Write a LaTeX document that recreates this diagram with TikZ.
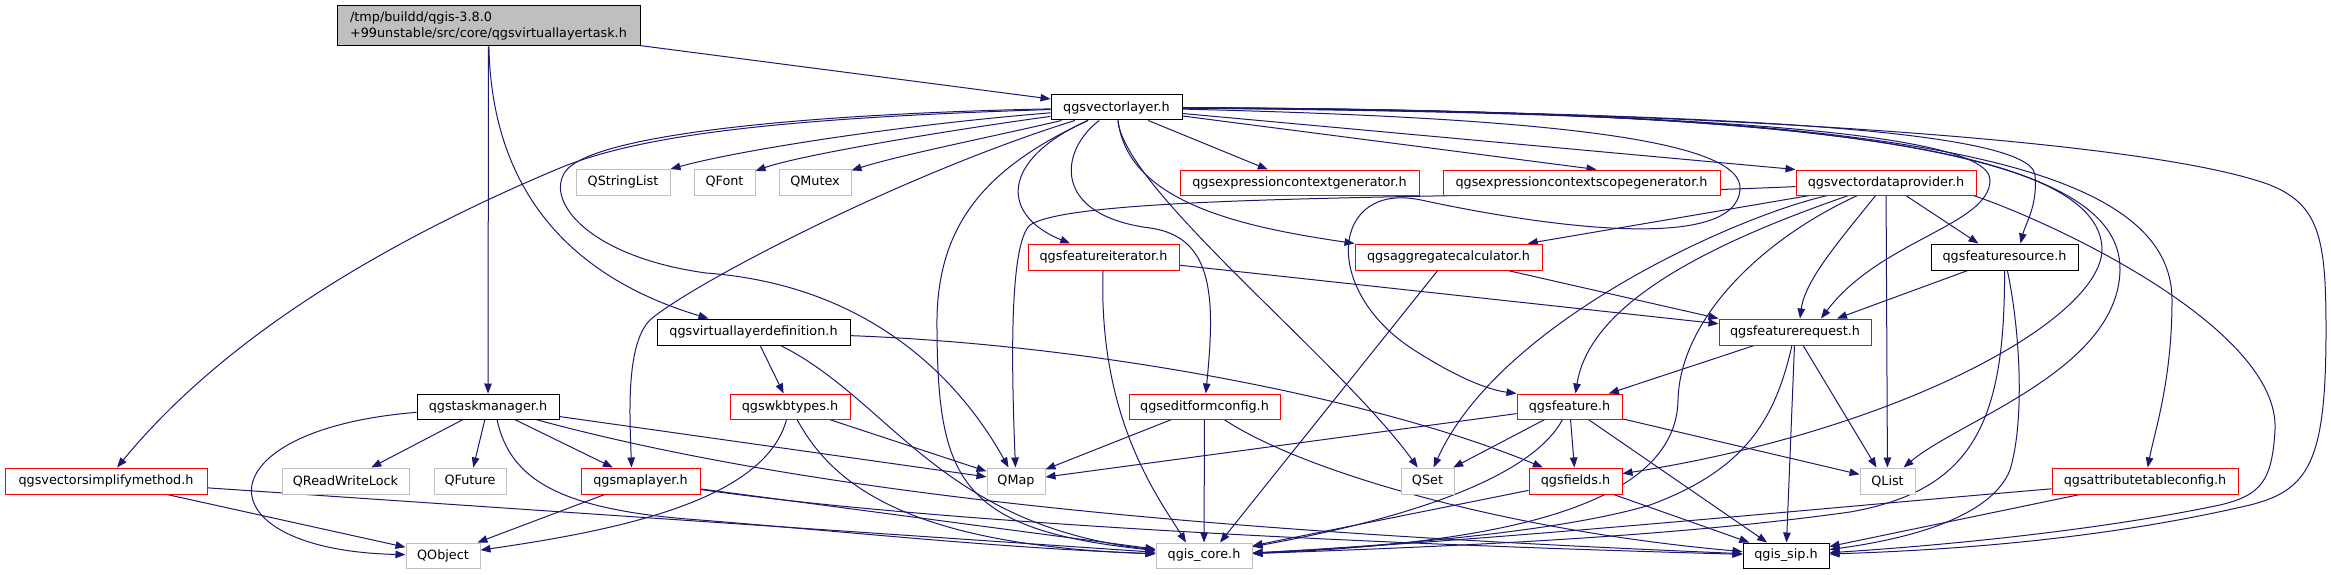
\documentclass[tikz,border=0pt]{standalone}
\usepackage{fontspec}
\setmainfont{DejaVu Sans}
\usetikzlibrary{arrows.meta,backgrounds}
\definecolor{edgeblue}{HTML}{191970}
\definecolor{nodered}{HTML}{FF0000}
\definecolor{nodegray}{HTML}{BFBFBF}
\definecolor{rootfill}{HTML}{BFBFBF}
\newcommand{\lblfont}{\fontsize{12.8}{16}\selectfont}
\begin{document}
\begin{tikzpicture}[x=1pt,y=-1pt,
  box/.style={rectangle, inner sep=0pt, minimum height=25pt, line width=1pt, font=\lblfont, fill=white},
  rbox/.style={box, draw=nodered},
  kbox/.style={box, draw=black},
  gbox/.style={box, draw=nodegray},
  lnk/.style={draw=edgeblue, line width=1pt, -{Triangle[length=10pt,width=7.5pt]}}]
\useasboundingbox (0,0) rectangle (2331,575);
\begin{pgfonlayer}{background}
\fill[white] (0,0) rectangle (2331,575);
\end{pgfonlayer}

% nodes
\node[kbox, fill=rootfill, minimum width=303pt, minimum height=40pt, align=left] (root) at (488.5,26) {/tmp/buildd/qgis-3.8.0\\+99unstable/src/core/qgsvirtuallayertask.h};
\node[kbox, minimum width=131pt] (vl) at (1116.5,107.5) {qgsvectorlayer.h};
\node[gbox, minimum width=94pt, minimum height=26pt] (qsl) at (623,182) {QStringList};
\node[gbox, minimum width=61pt, minimum height=26pt] (qfont) at (724.5,182) {QFont};
\node[gbox, minimum width=72pt, minimum height=26pt] (qmutex) at (815,182) {QMutex};
\node[rbox, minimum width=239pt] (exprgen) at (1299.5,182.5) {qgsexpressioncontextgenerator.h};
\node[rbox, minimum width=277pt] (exprscope) at (1581.5,182.5) {qgsexpressioncontextscopegenerator.h};
\node[rbox, minimum width=180pt] (vdp) at (1886,182.5) {qgsvectordataprovider.h};
\node[rbox, minimum width=151pt, minimum height=26pt] (fiter) at (1103.5,257) {qgsfeatureiterator.h};
\node[rbox, minimum width=187pt, minimum height=26pt] (aggcalc) at (1448.5,257) {qgsaggregatecalculator.h};
\node[kbox, minimum width=147pt, minimum height=26pt] (fsource) at (2004.5,257) {qgsfeaturesource.h};
\node[rbox, minimum width=152pt, minimum height=26pt] (freq) at (1795,332) {qgsfeaturerequest.h};
\node[kbox, minimum width=193pt, minimum height=26pt] (vld) at (753.5,332) {qgsvirtuallayerdefinition.h};
\node[kbox, minimum width=142pt] (taskmgr) at (488,406.5) {qgstaskmanager.h};
\node[rbox, minimum width=120pt] (wkb) at (790,406.5) {qgswkbtypes.h};
\node[rbox, minimum width=151pt] (editform) at (1204.5,406.5) {qgseditformconfig.h};
\node[rbox, minimum width=105pt] (feature) at (1569.5,406.5) {qgsfeature.h};
\node[rbox, minimum width=202pt, minimum height=26pt] (simplify) at (106,481) {qgsvectorsimplifymethod.h};
\node[gbox, minimum width=127pt, minimum height=26pt] (qrwl) at (345.5,481) {QReadWriteLock};
\node[gbox, minimum width=72pt, minimum height=26pt] (qfuture) at (470,481) {QFuture};
\node[rbox, minimum width=119pt, minimum height=26pt] (maplayer) at (640.5,481) {qgsmaplayer.h};
\node[gbox, minimum width=58pt, minimum height=26pt] (qmap) at (1016,481) {QMap};
\node[gbox, minimum width=53pt, minimum height=26pt] (qset) at (1427.5,481) {QSet};
\node[rbox, minimum width=93pt, minimum height=26pt] (fields) at (1575.5,481) {qgsfields.h};
\node[gbox, minimum width=55pt, minimum height=26pt] (qlist) at (1887.5,481) {QList};
\node[rbox, minimum width=186pt, minimum height=26pt] (attr) at (2145,481) {qgsattributetableconfig.h};
\node[gbox, minimum width=74pt] (qobject) at (443,555.5) {QObject};
\node[gbox, minimum width=96pt] (core) at (1204,555.5) {qgis\_core.h};
\node[kbox, minimum width=86pt] (sip) at (1786,555.5) {qgis\_sip.h};

\begin{pgfonlayer}{background}
% root
\draw[lnk] (root) -- (vl);
\draw[lnk] (root) -- (taskmgr);
\draw[lnk] (root) .. controls (492,200) and (580,280) .. (vld);
% qgsvectorlayer.h
\draw[lnk] (vl) .. controls (900,125) and (740,150) .. (qsl);
\draw[lnk] (vl) .. controls (950,130) and (800,155) .. (qfont);
\draw[lnk] (vl) .. controls (1000,135) and (900,155) .. (qmutex);
\draw[lnk] (vl) .. controls (780,118) and (640,135) .. (560,168) .. controls (400,235) and (230,330) .. (simplify);
\draw[lnk] (vl) .. controls (800,114) and (590,135) .. (565,172) .. controls (545,202) and (590,257) .. (706,273) .. controls (870,285) and (960,380) .. (qmap);
\draw[lnk] (vl) .. controls (900,175) and (690,285) .. (650,320) .. controls (625,345) and (630,420) .. ([xshift=-9pt]maplayer.north);
\draw[lnk] (vl) .. controls (980,170) and (935,230) .. (937,330) .. controls (938,480) and (960,530) .. (core);
\draw[lnk] (vl) .. controls (1000,160) and (1000,215) .. (fiter);
\draw[lnk] (vl) .. controls (1060,150) and (1050,215) .. (1150,228) .. controls (1215,237) and (1215,300) .. (editform);
\draw[lnk] (vl) .. controls (1125,190) and (1340,360) .. (qset);
\draw[lnk] (vl) .. controls (1128,205) and (1250,228) .. (aggcalc.north west);
\draw[lnk] (vl) -- (exprgen);
\draw[lnk] (vl) -- ([xshift=15pt]exprscope.north);
\draw[lnk] (vl) -- (vdp.north west);
\draw[lnk] (vl) .. controls (1600,112) and (1990,125) .. (1990,180) .. controls (1990,225) and (1880,240) .. ([xshift=26pt]freq.north);
\draw[lnk] (vl) .. controls (1650,112) and (2030,125) .. (2035,175) .. controls (2038,205) and (2025,225) .. ([xshift=16pt]fsource.north);
\draw[lnk] (vl) .. controls (1750,110) and (2102,140) .. (2102,250) .. controls (2100,320) and (1900,430) .. (fields);
\draw[lnk] (vl) .. controls (1800,110) and (2122,145) .. (2120,270) .. controls (2118,370) and (1960,420) .. (qlist);
\draw[lnk] (vl) .. controls (1850,110) and (2172,150) .. (2172,300) .. controls (2172,380) and (2155,430) .. (attr);
\draw[lnk] (vl) .. controls (1700,110) and (2150,140) .. (2270,185) .. controls (2320,205) and (2326,240) .. (2326,330) .. controls (2326,460) and (2310,490) .. (2250,505) .. controls (2100,540) and (1950,550) .. (sip);
\draw[lnk] (vl) .. controls (1550,118) and (1745,140) .. (1740,190) .. controls (1735,250) and (1560,230) .. (1421,200) .. controls (1331,181) and (1320,290) .. (1414,350) .. controls (1461,380) and (1490,390) .. (feature.north west);
% qgsvectordataprovider.h
\draw[lnk] (vdp) .. controls (1500,200) and (1080,192) .. (1030,225) .. controls (1008,245) and (1012,380) .. (qmap);
\draw[lnk] (vdp) -- (aggcalc);
\draw[lnk] (vdp) .. controls (1740,215) and (1500,320) .. (qset);
\draw[lnk] (vdp) .. controls (1760,240) and (1680,320) .. (1678,400) .. controls (1676,520) and (1450,545) .. (core);
\draw[lnk] (vdp) .. controls (1720,240) and (1590,300) .. ([xshift=6pt]feature.north);
\draw[lnk] (vdp) .. controls (1840,240) and (1805,280) .. ([xshift=5pt]freq.north);
\draw[lnk] (vdp) -- (qlist);
\draw[lnk] (vdp) -- ([xshift=-26pt]fsource.north);
\draw[lnk] ([xshift=-3pt]vdp.south east) .. controls (2060,225) and (2280,330) .. (2275,430) .. controls (2272,480) and (2262,495) .. (2220,505) .. controls (2100,530) and (1950,545) .. (sip);
% qgsfeaturesource.h
\draw[lnk] (fsource) -- ([xshift=42pt]freq.north);
\draw[lnk] (fsource) .. controls (2005,420) and (1975,490) .. (1850,512) .. controls (1650,540) and (1400,548) .. (core);
\draw[lnk] (fsource) .. controls (2020,330) and (2025,420) .. (2010,470) .. controls (1990,520) and (1900,540) .. (sip);
% qgsfeaturerequest.h
\draw[lnk] (freq) -- (feature);
\draw[lnk] (freq) .. controls (1775,420) and (1745,470) .. (1650,505) .. controls (1550,535) and (1350,548) .. (core);
\draw[lnk] (freq) -- (sip);
\draw[lnk] (freq) -- ([xshift=-11pt]qlist.north);
% qgsfeatureiterator.h
\draw[lnk] (fiter) -- (freq);
\draw[lnk] (fiter) .. controls (1098,420) and (1160,500) .. ([xshift=-18pt]core.north);
% qgsaggregatecalculator.h
\draw[lnk] (aggcalc) -- (freq.north west);
\draw[lnk] (aggcalc) -- ([xshift=16pt]core.north);
% qgsfeature.h
\draw[lnk] (feature) -- (qmap);
\draw[lnk] (feature) -- (qset);
\draw[lnk] (feature) .. controls (1530,480) and (1400,520) .. (core);
\draw[lnk] (feature) -- (fields);
\draw[lnk] (feature) -- (sip);
\draw[lnk] (feature) -- (qlist);
% qgsfields.h
\draw[lnk] (fields) -- (core);
\draw[lnk] (fields) -- (sip);
% qgseditformconfig.h
\draw[lnk] (editform) -- (qmap);
\draw[lnk] (editform) -- (core);
\draw[lnk] (editform) .. controls (1300,470) and (1500,530) .. (sip);
% qgsattributetableconfig.h
\draw[lnk] (attr) .. controls (1800,510) and (1500,540) .. (core);
\draw[lnk] (attr) -- (sip);
% qgsvirtuallayerdefinition.h
\draw[lnk] (vld) -- (wkb);
\draw[lnk] (vld) .. controls (890,400) and (940,525) .. (core);
\draw[lnk] (vld) .. controls (1100,345) and (1380,400) .. (fields);
% qgswkbtypes.h
\draw[lnk] (wkb) -- (qmap);
\draw[lnk] (wkb) .. controls (765,500) and (620,530) .. (qobject);
\draw[lnk] (wkb) .. controls (830,480) and (900,545) .. (core);
% qgstaskmanager.h
\draw[lnk] (taskmgr) .. controls (200,430) and (200,550) .. (qobject);
\draw[lnk] (taskmgr) -- (qrwl);
\draw[lnk] (taskmgr) -- (qfuture);
\draw[lnk] (taskmgr) -- (maplayer);
\draw[lnk] ([xshift=9pt]taskmgr.south) .. controls (510,480) and (560,510) .. (700,520) .. controls (850,532) and (1000,548) .. (core);
\draw[lnk] (taskmgr) -- (qmap);
\draw[lnk] (taskmgr) .. controls (850,505) and (1300,535) .. (sip);
% qgsmaplayer.h
\draw[lnk] (maplayer) -- (qobject);
\draw[lnk] (maplayer) -- (core);
\draw[lnk] (maplayer) .. controls (950,525) and (1400,545) .. (sip);
% qgsvectorsimplifymethod.h
\draw[lnk] (simplify) -- (qobject);
\draw[lnk] (simplify) -- (core);
\end{pgfonlayer}
\end{tikzpicture}
\end{document}
